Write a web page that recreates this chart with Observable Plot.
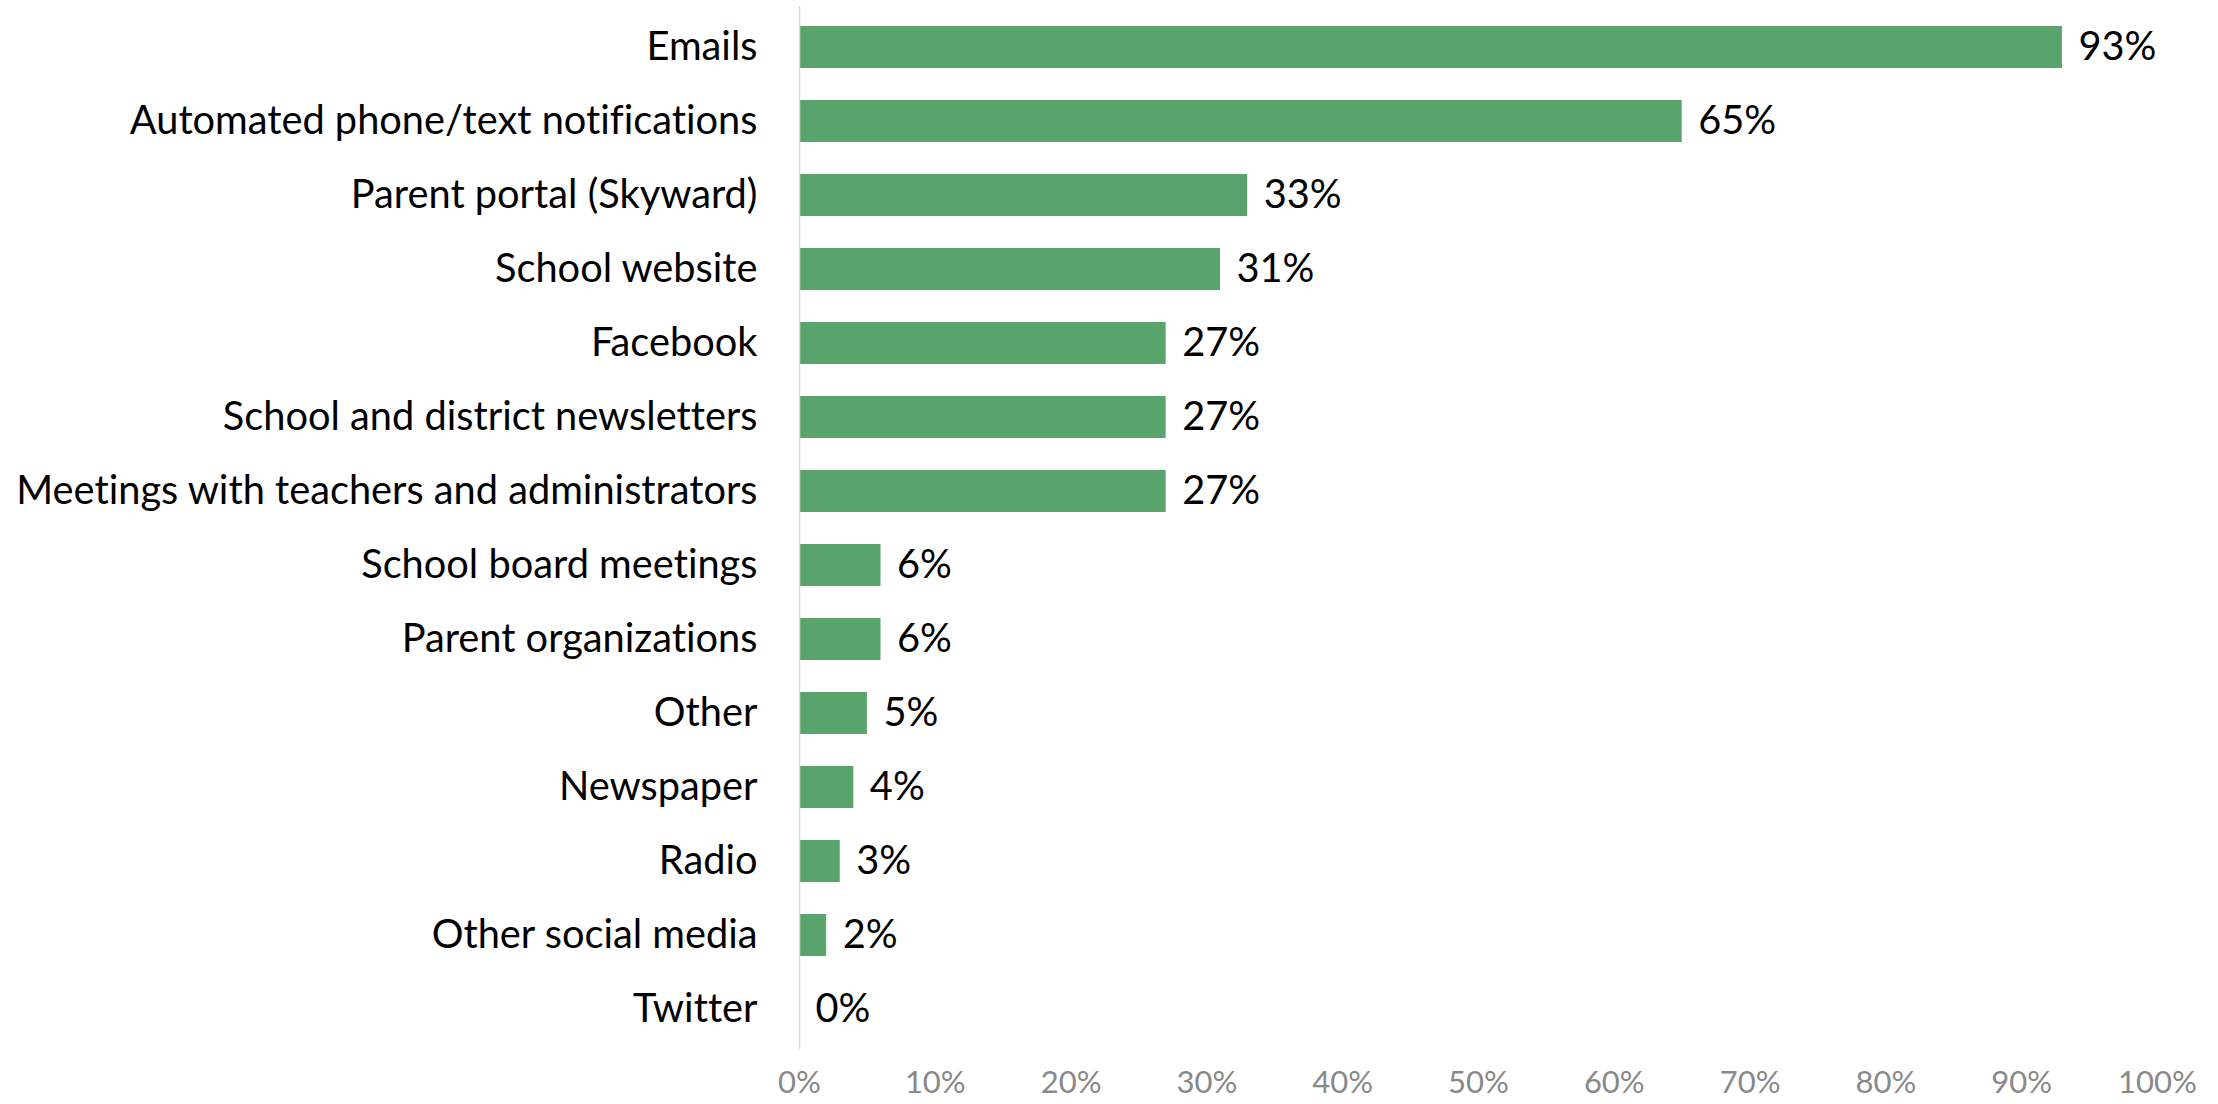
<!DOCTYPE html>
<html>
<head>
<meta charset="utf-8">
<script src="https://cdn.jsdelivr.net/npm/d3@7"></script>
<script src="https://cdn.jsdelivr.net/npm/@observablehq/plot@0.6"></script>
<style>
  html, body { margin: 0; padding: 0; background: #fff; }
  #chart svg { display: block; font-variant-ligatures: none; }
  #chart svg text { font-variant-ligatures: none; }
</style>
</head>
<body>
<div id="chart"></div>
<script>
const categories = [
  "Emails",
  "Automated phone/text notifications",
  "Parent portal (Skyward)",
  "School website",
  "Facebook",
  "School and district newsletters",
  "Meetings with teachers and administrators",
  "School board meetings",
  "Parent organizations",
  "Other",
  "Newspaper",
  "Radio",
  "Other social media",
  "Twitter"
];
const values = [93, 65, 33, 31, 27, 27, 27, 6, 6, 5, 4, 3, 2, 0];
const tickValues = [0, 10, 20, 30, 40, 50, 60, 70, 80, 90, 100];

const data = categories.map((c, i) => ({category: c, value: values[i] / 100}));

const FONT = "Lato, 'Open Sans', sans-serif";
const ctx = document.createElement("canvas").getContext("2d");
ctx.font = "100px Lato";
const labelSize = Math.min(44, 743 / ctx.measureText("Meetings with teachers and administrators").width * 100);
const tickSize = labelSize * 0.78;

const fmt = d3.format(".0%");

const chart = Plot.plot({
  width: 2218,
  height: 1104,
  marginLeft: 799,
  marginRight: 61,
  marginTop: 6,
  marginBottom: 55,
  style: {fontFamily: FONT, background: "#fff"},
  x: {domain: [0, 1], axis: null},
  y: {domain: categories, paddingInner: 0.436, paddingOuter: 0.218, axis: null},
  marks: [
    Plot.barX(data, {x: "value", y: "category", fill: "#58a46c"}),
    Plot.ruleX([0], {stroke: "#d9d9d9", strokeWidth: 1.5}),
    Plot.axisY({
      tickSize: 0,
      tickPadding: 42,
      fontSize: labelSize,
      fill: "#000",
      label: null
    }),
    Plot.axisX({
      ticks: tickValues.map(t => t / 100),
      tickFormat: fmt,
      tickSize: 0,
      tickPadding: 21,
      fontSize: tickSize,
      fill: "#898989",
      label: null
    }),
    Plot.text(data, {
      x: "value",
      y: "category",
      text: d => fmt(d.value),
      textAnchor: "start",
      dx: 16,
      fontSize: labelSize,
      fill: "#000"
    })
  ]
});

document.getElementById("chart").appendChild(chart);
</script>
</body>
</html>
